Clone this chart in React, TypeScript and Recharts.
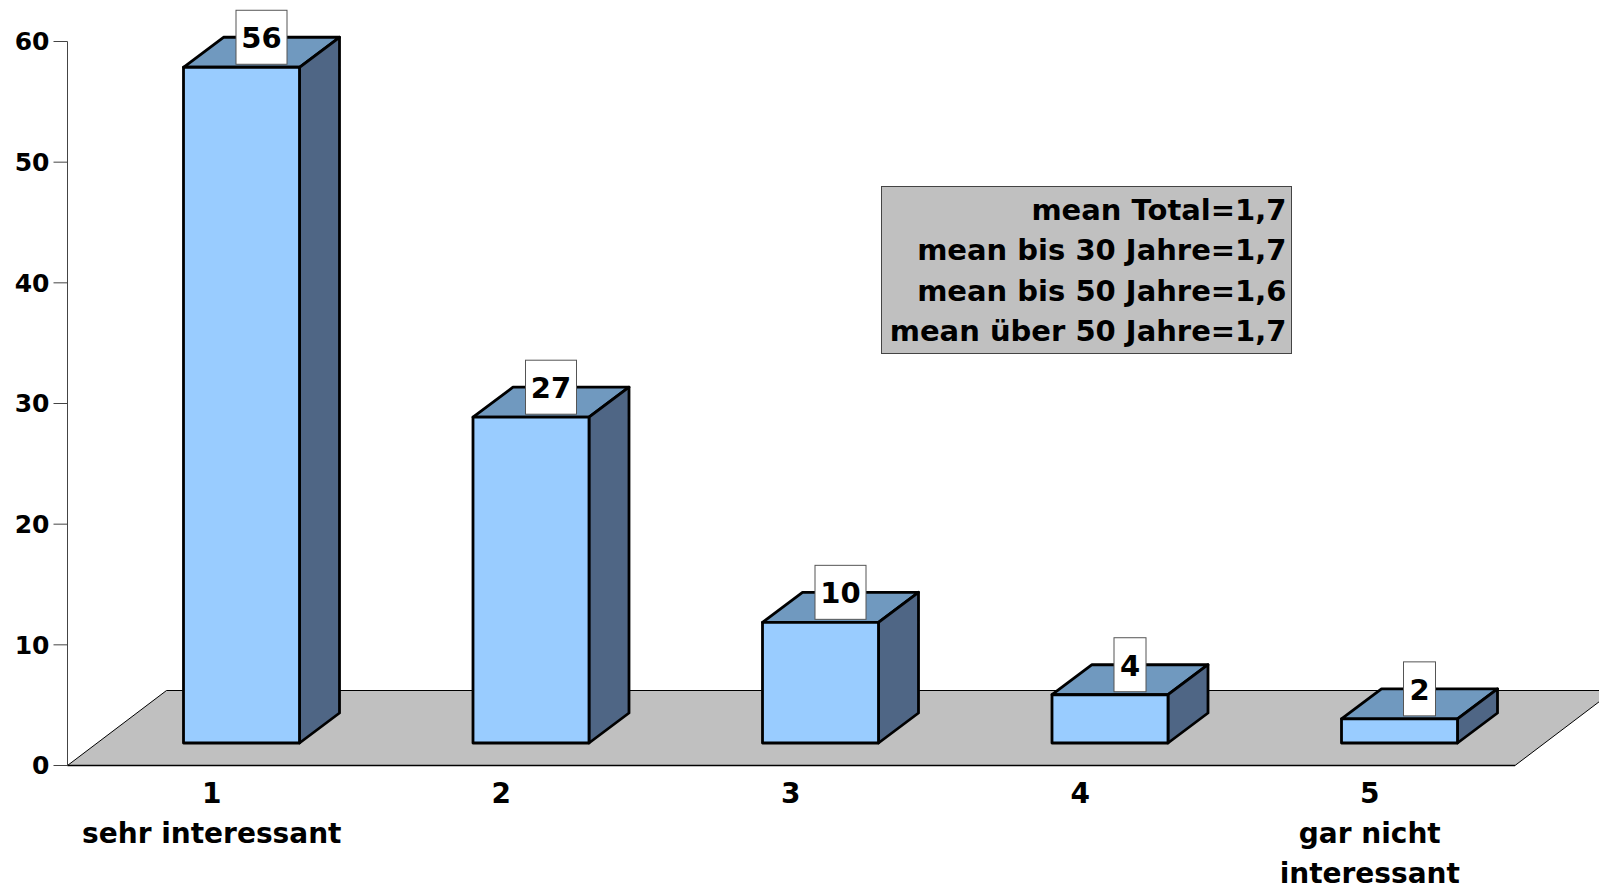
import { BarChart, Bar, XAxis, YAxis, LabelList } from 'recharts';

const categories = ['1', '2', '3', '4', '5'];
const captions = [['sehr interessant'], [], [], [], ['gar nicht', 'interessant']];
const percent = [56, 27, 10, 4, 2];
const yTicks = [0, 10, 20, 30, 40, 50, 60];
const meanLines = [
  'mean Total=1,7',
  'mean bis 30 Jahre=1,7',
  'mean bis 50 Jahre=1,6',
  'mean über 50 Jahre=1,7',
];

const data = categories.map((name, i) => ({ name, value: percent[i] }));

const FONT = '"DejaVu Sans", sans-serif';

// plot frame
const LEFT = 67.5;
const RIGHT = 1515;
const TOP = 41.5;
const BASE = 765.5;

// 3d projection: floor depth, box depth, and where box fronts sit on the floor
const FLOOR_DX = 99;
const FLOOR_DY = 75;
const BOX_DX = 40;
const BOX_DY = 30;
const SHIFT_X = 29;
const SHIFT_Y = -22.5;

function Floor() {
  const pts = [
    [LEFT, BASE],
    [LEFT + FLOOR_DX, BASE - FLOOR_DY],
    [RIGHT + FLOOR_DX, BASE - FLOOR_DY],
    [RIGHT, BASE],
  ];
  return <polygon points={pts.map((p) => p.join(',')).join(' ')} fill="#C0C0C0" stroke="#000" strokeWidth={1} />;
}

function Box(props: any) {
  const { x, y, width, height } = props;
  const l = x + SHIFT_X;
  const r = l + width;
  const t = y + SHIFT_Y;
  const b = t + height;
  const stroke = { stroke: '#000', strokeWidth: 2.8, strokeLinejoin: 'round' as const };
  return (
    <g>
      <polygon
        points={`${l},${t} ${l + BOX_DX},${t - BOX_DY} ${r + BOX_DX},${t - BOX_DY} ${r},${t}`}
        fill="#7099BF"
        {...stroke}
      />
      <polygon
        points={`${r},${t} ${r + BOX_DX},${t - BOX_DY} ${r + BOX_DX},${b - BOX_DY} ${r},${b}`}
        fill="#4F6685"
        {...stroke}
      />
      <rect x={l} y={t} width={width} height={height} fill="#99CCFF" {...stroke} />
    </g>
  );
}

function ValueTag(props: any) {
  const { x, y, width, value } = props;
  const text = String(value);
  const w = text.length * 19 + 13;
  const h = 54;
  const cx = x + width / 2 + SHIFT_X + BOX_DX / 2;
  const bottom = y + SHIFT_Y - 3;
  return (
    <g>
      <rect x={cx - w / 2} y={bottom - h} width={w} height={h} fill="#fff" stroke="#555" strokeWidth={1} />
      <text
        x={cx}
        y={bottom - h / 2 + 11}
        textAnchor="middle"
        fontFamily={FONT}
        fontWeight="bold"
        fontSize={29}
        fill="#000"
      >
        {text}
      </text>
    </g>
  );
}

function CategoryTick(props: any) {
  const { x, payload, index } = props;
  const lines = [payload.value, ...captions[index]];
  return (
    <text textAnchor="middle" fontFamily={FONT} fontWeight="bold" fontSize={28} fill="#000">
      {lines.map((line: string, i: number) => (
        <tspan key={i} x={x - 0.5} y={BASE + 37.5 + i * 40.2}>
          {line}
        </tspan>
      ))}
    </text>
  );
}

function MeanBox() {
  return (
    <g>
      <rect x={881.5} y={186.5} width={410} height={167} fill="#C0C0C0" stroke="#444" strokeWidth={1} />
      {meanLines.map((line, i) => (
        <text
          key={line}
          x={1286.5}
          y={220 + i * 40.4}
          textAnchor="end"
          fontFamily={FONT}
          fontWeight="bold"
          fontSize={29}
          fill="#000"
        >
          {line}
        </text>
      ))}
    </g>
  );
}

export default function App() {
  return (
    <div style={{ position: 'absolute', left: 0, top: 0, width: 1599, height: 890, overflow: 'hidden', background: '#fff' }}>
      <BarChart
        width={1599}
        height={890}
        data={data}
        barSize={116}
        margin={{ top: TOP, right: 1599 - RIGHT, bottom: 0, left: 0 }}
      >
        <Floor />
        <XAxis
          dataKey="name"
          height={890 - BASE}
          tickLine={false}
          axisLine={{ stroke: '#000', strokeWidth: 1.5 }}
          tick={<CategoryTick />}
          interval={0}
        />
        <YAxis
          width={LEFT}
          domain={[0, 60]}
          ticks={yTicks}
          tickSize={14}
          tickMargin={4}
          axisLine={{ stroke: '#444', strokeWidth: 1 }}
          tickLine={{ stroke: '#444', strokeWidth: 1 }}
          tick={{ fontFamily: FONT, fontWeight: 'bold', fontSize: 25, fill: '#000' }}
          interval={0}
        />
        <Bar dataKey="value" shape={<Box />} isAnimationActive={false}>
          <LabelList dataKey="value" content={<ValueTag />} />
        </Bar>
        <MeanBox />
      </BarChart>
    </div>
  );
}
